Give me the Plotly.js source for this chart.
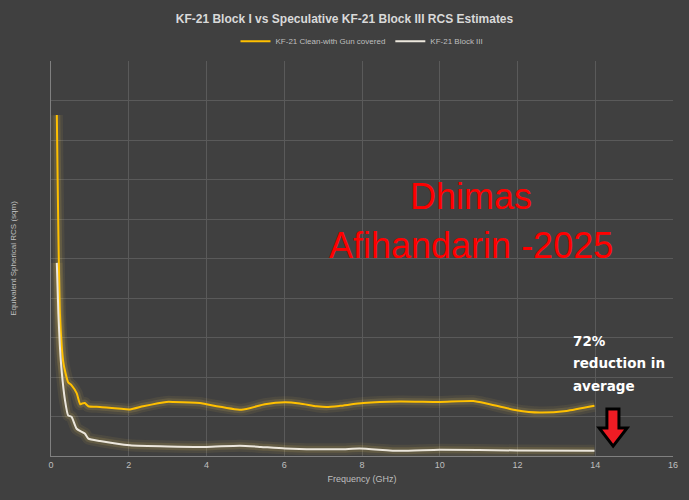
<!DOCTYPE html>
<html>
<head>
<meta charset="utf-8">
<script src="https://cdn.plot.ly/plotly-3.0.1.min.js"></script>
<style>
  html, body { margin: 0; padding: 0; background: #404040; }
  #chart { width: 689px; height: 500px; outline: 1px solid #7a7a7a; outline-offset: -1px; }
</style>
</head>
<body>
<div id="chart"></div>
<script>
// Data (y in arbitrary units; the axis has no labels)
const blockI_freq = [0.15, 0.23, 0.32, 0.44, 0.53, 0.66, 0.75, 0.80, 0.87, 0.96, 1.26, 2.03, 2.37, 2.97, 3.14, 3.83, 4.0, 4.9, 5.5, 6.02, 6.4, 6.83, 7.09, 7.43, 8.03, 8.97, 10.0, 10.86, 11.2, 11.97, 12.57, 13.26, 13.98];
const blockI_rcs  = [8.63, 3.6, 2.35, 1.87, 1.79, 1.59, 1.31, 1.33, 1.34, 1.26, 1.24, 1.18, 1.26, 1.37, 1.37, 1.34, 1.31, 1.17, 1.31, 1.36, 1.33, 1.26, 1.24, 1.27, 1.34, 1.38, 1.37, 1.39, 1.33, 1.16, 1.10, 1.14, 1.27];
const blockIII_freq = [0.15, 0.19, 0.23, 0.28, 0.36, 0.44, 0.53, 0.66, 0.87, 0.96, 1.26, 2.03, 3.0, 4.0, 4.86, 5.4, 6.02, 7.43, 7.94, 8.97, 10.0, 11.97, 13.98];
const blockIII_rcs  = [4.89, 3.61, 2.76, 2.09, 1.41, 1.03, 0.99, 0.69, 0.57, 0.44, 0.38, 0.27, 0.24, 0.23, 0.26, 0.23, 0.19, 0.17, 0.19, 0.13, 0.16, 0.14, 0.13];
const seriesNames = ["KF-21 Clean-with Gun covered", "KF-21 Block III"];
const xTicks = [0, 2, 4, 6, 8, 10, 12, 14, 16];
const watermarkLines = ["Dhimas", "Afihandarin -2025"];
const noteLines = ["72%", "reduction in", "average"];

// decorative red arrow (axis units)
const arrowX = [14.30, 14.61, 14.61, 14.82, 14.46, 14.10, 14.30];
const arrowY = [1.19, 1.19, 0.71, 0.71, 0.25, 0.71, 0.71];

const glow = (x, y) => [
  {x, y, mode: 'lines', line: {color: 'rgba(255,215,90,0.07)', width: 12, shape: 'spline', smoothing: 0.5}, showlegend: false, hoverinfo: 'skip'},
  {x, y, mode: 'lines', line: {color: 'rgba(255,215,90,0.12)', width: 7, shape: 'spline', smoothing: 0.5}, showlegend: false, hoverinfo: 'skip'}
];

const traces = [
  ...glow(blockI_freq, blockI_rcs),
  ...glow(blockIII_freq, blockIII_rcs),
  {x: blockI_freq, y: blockI_rcs, name: seriesNames[0], mode: 'lines',
   line: {color: '#ffc000', width: 2, shape: 'spline', smoothing: 0.5}},
  {x: blockIII_freq, y: blockIII_rcs, name: seriesNames[1], mode: 'lines',
   line: {color: '#ece7dd', width: 2, shape: 'spline', smoothing: 0.5}}
];

const arrowPath = 'M' + arrowX.map((v, i) => v + ',' + arrowY[i]).join(' L') + ' Z';

const font = "'Liberation Sans', Arial, sans-serif";

const wmY = [0.6557, 0.5329];
const noteY = [0.292, 0.236, 0.178];

const annotations = [
  ...watermarkLines.map((t, i) => ({xref: 'paper', yref: 'paper', x: 0.675, y: wmY[i], xanchor: 'center', yanchor: 'middle',
     showarrow: false, text: t, font: {family: font, size: 36, color: '#ff0000'}})),
  ...noteLines.map((t, i) => ({xref: 'paper', yref: 'paper', x: 0.836, y: noteY[i], xanchor: 'left', yanchor: 'middle',
     showarrow: false, text: '<b>' + t + '</b>', font: {family: "'DejaVu Sans', sans-serif", size: 13.5, color: '#ffffff'}}))
];

const layout = {
  width: 689, height: 500,
  margin: {l: 51, r: 16, t: 61, b: 44},
  paper_bgcolor: '#404040',
  plot_bgcolor: '#404040',
  font: {family: font, color: '#bfbfbf', size: 10},
  title: {text: '<b>KF-21 Block I vs Speculative KF-21 Block III RCS Estimates</b>',
          font: {family: font, size: 12, color: '#d9d9d9'}, x: 0.5, xanchor: 'center', y: 0.962, yanchor: 'middle'},
  showlegend: true,
  legend: {orientation: 'h', x: 0.5, xanchor: 'center', y: 1.05, yanchor: 'middle',
           font: {family: font, size: 8, color: '#bfbfbf'}, bgcolor: 'rgba(0,0,0,0)',
           traceorder: 'normal', itemwidth: 30},
  xaxis: {range: [0, 16], tickvals: xTicks, ticktext: xTicks.map(String), showgrid: true, gridcolor: '#5a5a5a', gridwidth: 1,
          zeroline: false, showline: true, linecolor: '#808080', linewidth: 1, ticks: '',
          tickfont: {family: font, size: 9, color: '#bfbfbf'},
          title: {text: 'Frequency (GHz)', font: {family: font, size: 9, color: '#bfbfbf'}, standoff: 6}},
  yaxis: {range: [0, 10], dtick: 1, showticklabels: false, showgrid: true, gridcolor: '#5a5a5a', gridwidth: 1,
          zeroline: false, showline: true, linecolor: '#808080', linewidth: 1, ticks: '',
          title: {text: 'Equivalent Spherical RCS (sqm)', font: {family: font, size: 8, color: '#bfbfbf'}, standoff: 32}},
  annotations,
  shapes: [
    {type: 'path', xref: 'x', yref: 'y', path: arrowPath, fillcolor: '#ee1c24',
     line: {color: '#000000', width: 3}}
  ]
};

Plotly.newPlot('chart', traces, layout, {displayModeBar: false, staticPlot: true});
</script>
</body>
</html>
